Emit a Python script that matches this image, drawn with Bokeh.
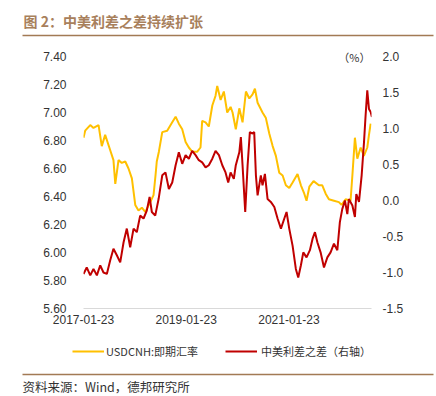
import pandas as pd
from bokeh.plotting import figure
from bokeh.layouts import column
from bokeh.models import (Range1d, LinearAxis, FixedTicker, DatetimeTickFormatter,
                          NumeralTickFormatter, Label, Legend, LegendItem, ColumnDataSource)
from bokeh.core.properties import value
from bokeh.embed import file_html
from bokeh.resources import INLINE

# ---------------- data ----------------
usd_dates = [
    "2017-01-23", "2017-02-04", "2017-03-12", "2017-04-04", "2017-05-10", "2017-06-02",
    "2017-06-26", "2017-08-01", "2017-08-24", "2017-09-06", "2017-09-29", "2017-10-22",
    "2017-11-16", "2017-12-09", "2018-01-02", "2018-01-26", "2018-02-18", "2018-03-14",
    "2018-04-07", "2018-05-13", "2018-06-05", "2018-06-19", "2018-06-28", "2018-07-13",
    "2018-08-06", "2018-09-10", "2018-10-16", "2018-11-09", "2018-12-02", "2018-12-26",
    "2019-01-19", "2019-02-11", "2019-03-07", "2019-04-12", "2019-05-05", "2019-05-17",
    "2019-06-10", "2019-07-03", "2019-07-28", "2019-08-20", "2019-09-01", "2019-09-25",
    "2019-10-18", "2019-11-11", "2019-12-05", "2019-12-19", "2020-01-11", "2020-02-05",
    "2020-02-28", "2020-03-23", "2020-04-16", "2020-05-09", "2020-05-26", "2020-06-14",
    "2020-07-19", "2020-08-12", "2020-09-05", "2020-09-29", "2020-10-22", "2020-11-15",
    "2020-12-09", "2021-01-01", "2021-01-25", "2021-02-18", "2021-03-25", "2021-04-18",
    "2021-05-12", "2021-05-28", "2021-06-17", "2021-07-17", "2021-08-24", "2021-09-17",
    "2021-10-11", "2021-11-03", "2021-12-09", "2022-01-13", "2022-02-01", "2022-03-02",
    "2022-04-06", "2022-04-19", "2022-05-07", "2022-05-24", "2022-06-17", "2022-07-10",
    "2022-08-03", "2022-08-15", "2022-08-27",
]
usd_values = [
    6.82, 6.87, 6.91, 6.89, 6.91, 6.76,
    6.84, 6.73, 6.66, 6.49, 6.66, 6.64,
    6.65, 6.60, 6.53, 6.34, 6.30, 6.32,
    6.29, 6.36, 6.41, 6.55, 6.65, 6.72,
    6.86, 6.87, 6.93, 6.97, 6.92, 6.88,
    6.79, 6.75, 6.72, 6.72, 6.75, 6.94,
    6.93, 6.90, 7.05, 7.12, 7.19, 7.09,
    7.15, 7.00, 7.04, 7.00, 6.88, 7.03,
    6.93, 7.15, 7.10, 7.13, 7.17, 7.07,
    7.00, 6.96, 6.85, 6.76, 6.69, 6.57,
    6.55, 6.48, 6.46, 6.50, 6.56, 6.48,
    6.42, 6.37, 6.47, 6.51, 6.48, 6.48,
    6.42, 6.38, 6.37, 6.36, 6.34, 6.38,
    6.37, 6.55, 6.82, 6.67, 6.75, 6.69,
    6.75, 6.84, 6.92,
]

spread_dates = [
    "2017-01-23", "2017-02-15", "2017-03-12", "2017-04-04", "2017-04-28", "2017-05-22",
    "2017-06-14", "2017-07-08", "2017-08-01", "2017-08-24", "2017-09-17", "2017-10-11",
    "2017-11-04", "2017-11-27", "2017-12-21", "2018-01-14", "2018-02-06", "2018-03-02",
    "2018-03-26", "2018-04-18", "2018-05-08", "2018-05-24", "2018-06-17", "2018-07-11",
    "2018-08-06", "2018-08-29", "2018-09-22", "2018-10-16", "2018-11-09", "2018-12-02",
    "2018-12-26", "2019-01-19", "2019-02-11", "2019-03-07", "2019-03-31", "2019-04-23",
    "2019-05-17", "2019-06-10", "2019-07-03", "2019-07-28", "2019-08-20", "2019-09-13",
    "2019-10-07", "2019-10-30", "2019-11-18", "2019-12-05", "2019-12-28", "2020-01-11",
    "2020-02-05", "2020-02-16", "2020-02-28", "2020-03-18", "2020-04-04", "2020-04-20",
    "2020-05-09", "2020-05-21", "2020-06-02", "2020-06-14", "2020-07-07", "2020-07-19",
    "2020-08-05", "2020-08-24", "2020-09-16", "2020-10-11", "2020-11-03", "2020-11-27",
    "2020-12-21", "2021-01-06", "2021-01-25", "2021-02-18", "2021-03-13", "2021-03-30",
    "2021-04-18", "2021-05-05", "2021-05-28", "2021-06-21", "2021-07-10", "2021-07-27",
    "2021-08-13", "2021-09-05", "2021-09-29", "2021-10-23", "2021-11-15", "2021-12-09",
    "2022-01-02", "2022-01-20", "2022-02-06", "2022-02-25", "2022-03-14", "2022-03-25",
    "2022-04-19", "2022-05-07", "2022-05-17", "2022-06-05", "2022-06-24", "2022-07-10",
    "2022-07-22", "2022-08-03", "2022-08-15", "2022-08-27", "2022-09-05",
]
spread_values = [
    -1.02, -0.93, -1.04, -0.95, -1.04, -0.90,
    -1.00, -1.02, -0.83, -0.67, -0.76, -0.86,
    -0.58, -0.39, -0.65, -0.39, -0.44, -0.21,
    -0.25, -0.14, 0.05, -0.16, -0.21, 0.02,
    0.35, 0.39, 0.16, 0.25, 0.49, 0.67,
    0.51, 0.63, 0.58, 0.69, 0.63, 0.56,
    0.53, 0.46, 0.49, 0.58, 0.69, 0.63,
    0.49, 0.39, 0.25, 0.39, 0.30, 0.49,
    0.67, 0.88, 0.49, -0.16, 0.49, 0.95,
    0.93, 0.95, 0.35, 0.07, 0.35, 0.21,
    0.37, 0.02, -0.02, -0.09, -0.25, -0.39,
    -0.25, -0.16, -0.39, -0.63, -0.95, -1.07,
    -0.90, -0.72, -0.79, -0.69, -0.53, -0.44,
    -0.58, -0.72, -0.93, -0.79, -0.72, -0.60,
    -0.69, -0.30, -0.12, 0.00, -0.19, 0.02,
    -0.07, -0.23, 0.09, -0.02, 0.35, 0.79,
    1.18, 1.53, 1.27, 1.23, 1.16,
]

x_tick_labels = ["2017-01-23", "2019-01-23", "2021-01-23"]
left_ticks = [5.6, 5.8, 6.0, 6.2, 6.4, 6.6, 6.8, 7.0, 7.2, 7.4]
right_ticks = [-1.5, -1.0, -0.5, 0.0, 0.5, 1.0, 1.5, 2.0]
x_start, x_end = "2017-01-23", "2022-09-02"

title_text = "图 2：中美利差之差持续扩张"
usd_label = "USDCNH:即期汇率"
spread_label = "中美利差之差（右轴）"
unit_text = "（%）"
source_text = "资料来源：Wind，德邦研究所"

# ---------------- styling / layout constants ----------------
YELLOW = "#FFC000"
RED = "#C00000"
BROWN = "#A27A55"
TITLE_C = "#A8805C"
TXT = "#333333"
CJK = "Noto Sans CJK SC"
NUM = "Liberation Sans"

W = 436
TOP_H = 48          # title strip
MAIN_H = 292        # chart strip
BOT_H = 56          # legend + source strip
FRAME_W = 288
FRAME_H = 252       # pixel height between 5.60 and 7.40
TOP_PAD = 8         # frame extends this many px above the top tick (room for the unit label)

def strip(height, y0):
    f = figure(width=W, height=height, output_backend="svg", toolbar_location=None,
               x_range=Range1d(0, W), y_range=Range1d(y0 + height, y0),
               x_axis_location=None, y_axis_location=None, min_border=0)
    f.frame_align = False
    f.outline_line_color = None
    f.xgrid.visible = False
    f.ygrid.visible = False
    f.background_fill_color = "white"
    f.border_fill_color = "white"
    return f

# ---------------- title strip ----------------
top = strip(TOP_H, 0)
top.text(x=[23], y=[20], text=[title_text], text_font=value(CJK), text_font_size="14px",
         text_font_style="bold", text_color=TITLE_C, text_baseline="middle", text_align="left")
top.segment(x0=[22], y0=[35], x1=[433], y1=[35], line_color=BROWN, line_width=1.5)

# ---------------- main chart ----------------
usd_src = ColumnDataSource(dict(x=pd.to_datetime(usd_dates), y=usd_values))
spr_src = ColumnDataSource(dict(x=pd.to_datetime(spread_dates), y=spread_values))

l_lo, l_hi = left_ticks[0], left_ticks[-1]
r_lo, r_hi = right_ticks[0], right_ticks[-1]
l_top = l_hi + TOP_PAD * (l_hi - l_lo) / FRAME_H
r_top = r_hi + TOP_PAD * (r_hi - r_lo) / FRAME_H

p = figure(width=W, height=MAIN_H, output_backend="svg", toolbar_location=None,
           x_axis_type="datetime",
           x_range=Range1d(pd.Timestamp(x_start), pd.Timestamp(x_end)),
           y_range=Range1d(l_lo, l_top),
           min_border_left=83, min_border_right=W - 83 - FRAME_W,
           min_border_top=0, min_border_bottom=MAIN_H - FRAME_H - TOP_PAD)
p.frame_align = False
p.background_fill_color = "white"
p.border_fill_color = "white"
p.outline_line_color = None
p.xgrid.visible = False
p.ygrid.visible = False
p.extra_y_ranges = {"right": Range1d(r_lo, r_top)}

r_usd = p.line("x", "y", source=usd_src, color=YELLOW, line_width=2)
r_spr = p.line("x", "y", source=spr_src, color=RED, line_width=2, y_range_name="right")

def style_axis(ax, standoff):
    ax.major_tick_line_color = None
    ax.minor_tick_line_color = None
    ax.major_tick_out = 0
    ax.major_tick_in = 0
    ax.minor_tick_out = 0
    ax.minor_tick_in = 0
    ax.major_label_standoff = standoff
    ax.major_label_text_font = NUM
    ax.major_label_text_font_size = "12px"
    ax.major_label_text_color = TXT

xa = p.xaxis[0]
xa.ticker = FixedTicker(ticks=[pd.Timestamp(t).value / 1e6 for t in x_tick_labels])
xa.formatter = DatetimeTickFormatter(days="%Y-%m-%d", months="%Y-%m-%d", years="%Y-%m-%d",
                                     hours="%Y-%m-%d", minutes="%Y-%m-%d")
xa.axis_line_color = "#D9D9D9"
style_axis(xa, 6)

ya = p.yaxis[0]
ya.ticker = FixedTicker(ticks=left_ticks)
ya.formatter = NumeralTickFormatter(format="0.00")
ya.axis_line_color = None
style_axis(ya, 17)

ra = LinearAxis(y_range_name="right", ticker=FixedTicker(ticks=right_ticks),
                formatter=NumeralTickFormatter(format="0.0"))
ra.axis_line_color = None
style_axis(ra, 11)
p.add_layout(ra, "right")

p.add_layout(Label(x=FRAME_W - 1, y=FRAME_H, x_units="screen", y_units="screen", text=unit_text,
                   text_font=CJK, text_font_size="11px", text_color=TXT,
                   text_baseline="middle", text_align="right"))

# ---------------- legend + source strip ----------------
bot = strip(BOT_H, TOP_H + MAIN_H)
nan = float("nan")
d_usd = bot.line("x", "y", source=ColumnDataSource(dict(x=[nan], y=[nan])),
                 color=YELLOW, line_width=2)
d_spr = bot.line("x", "y", source=ColumnDataSource(dict(x=[nan], y=[nan])),
                 color=RED, line_width=2)

def make_legend(label, rend, loc, standoff):
    return Legend(items=[LegendItem(label=label, renderers=[rend])], location=loc,
                  orientation="horizontal", glyph_width=32, glyph_height=20, label_height=20,
                  label_standoff=standoff, padding=0, margin=0, spacing=0,
                  border_line_color=None, background_fill_alpha=0,
                  label_text_font=CJK, label_text_font_size="11px", label_text_color=TXT)

leg_y = BOT_H - (351 - (TOP_H + MAIN_H)) - 10
bot.add_layout(make_legend(usd_label, d_usd, (72, leg_y), 2))
bot.add_layout(make_legend(spread_label, d_spr, (225, leg_y), 4))

bot.segment(x0=[22], y0=[374], x1=[433], y1=[374], line_color=BROWN, line_width=1.5)
bot.text(x=[22], y=[386], text=[source_text], text_font=value(CJK), text_font_size="12.5px",
         text_color=TXT, text_baseline="middle", text_align="left")

layout = column(top, p, bot, spacing=0)
open("out.html", "w").write(file_html(layout, INLINE))
